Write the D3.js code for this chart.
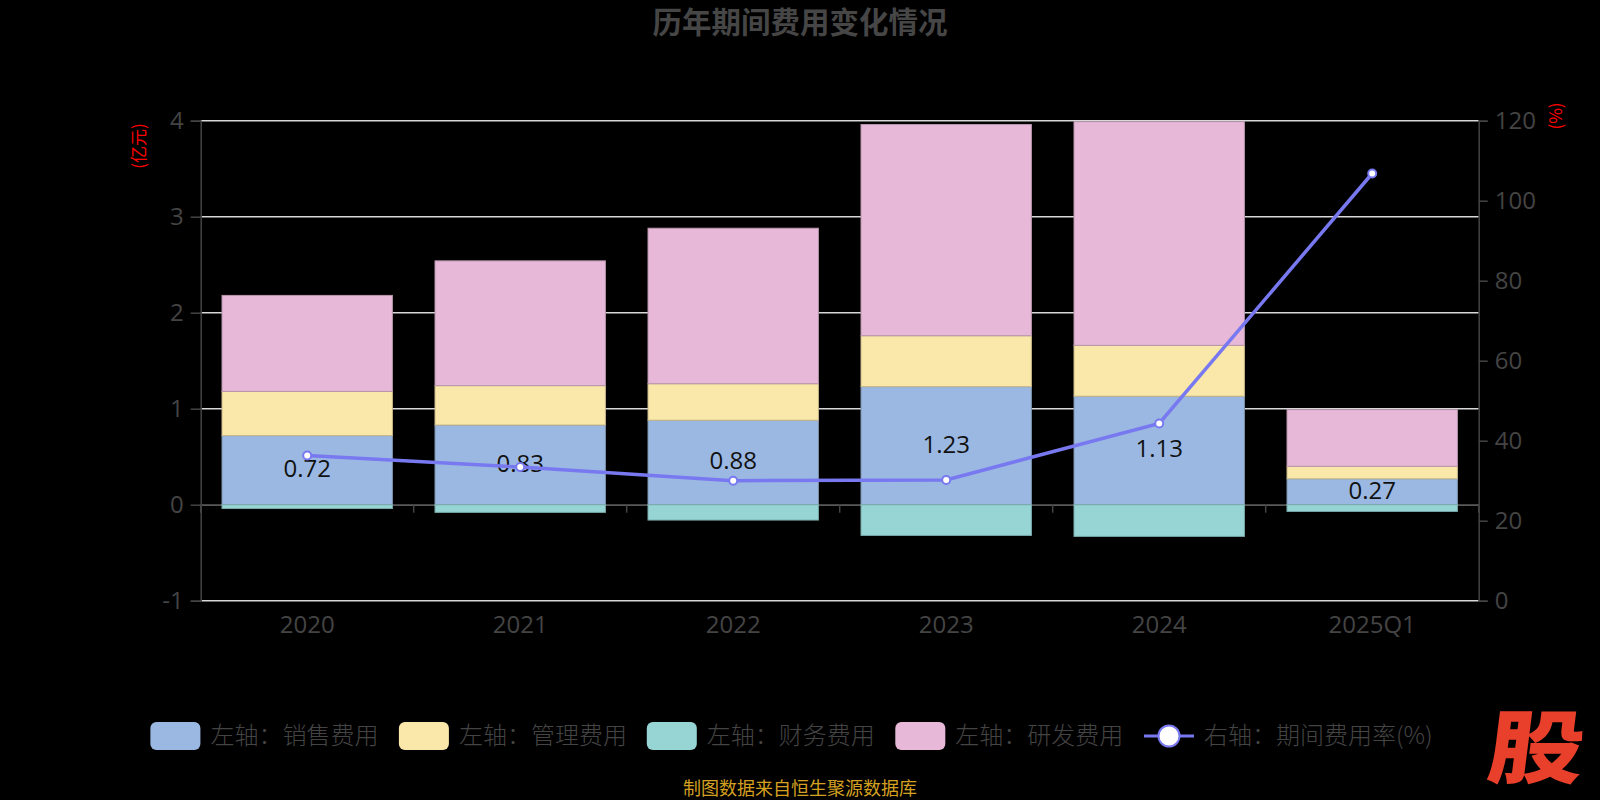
<!DOCTYPE html>
<html><head><meta charset="utf-8">
<script src="https://cdn.jsdelivr.net/npm/d3@7"></script>
<style>html,body{margin:0;padding:0;background:#000;}svg{display:block;}</style>
</head><body>
<svg id="c" width="1600" height="800"></svg>
<script>
const categories = ["2020","2021","2022","2023","2024","2025Q1"];
const salesExp   = [0.72, 0.83, 0.88, 1.23, 1.13, 0.27];
const adminExp   = [0.46, 0.41, 0.38, 0.53, 0.53, 0.13];
const financeExp = [-0.04, -0.08, -0.16, -0.32, -0.33, -0.07];
const rdExp      = [1.00, 1.30, 1.62, 2.20, 2.33, 0.59];
const expenseRate = [36.3, 33.4, 30.0, 30.2, 44.3, 106.8];
const leftTicks = [-1, 0, 1, 2, 3, 4];
const rightTicks = [0, 20, 40, 60, 80, 100, 120];
const seriesNames = ["左轴：销售费用","左轴：管理费用","左轴：财务费用","左轴：研发费用"];
const lineName = "右轴：期间费用率(%)";
const colors = ["#9bb8e2","#f9e8a9","#97d4d4","#e8b8d9"];
const strokes = ["#7f93ad","#c9b98a","#7aabab","#b896ac"];
const lineColor = "#7878f0";

const FONT = "'Open Sans','Noto Sans CJK SC',sans-serif";
const svg = d3.select("#c");
const L = 200.7, R = 1478.7, T = 120.7, B = 600.7;

const x = d3.scaleBand().domain(categories).range([L, R]).padding(0);
const yL = d3.scaleLinear().domain([-1, 4]).range([B, T]);
const yR = d3.scaleLinear().domain([0, 120]).range([B, T]);

// title
svg.append("text").attr("x", 800).attr("y", 33).attr("text-anchor","middle")
  .attr("font-family","'Noto Sans CJK SC',sans-serif").attr("font-weight","bold")
  .attr("font-size", 29.5).attr("fill","#464646").text("历年期间费用变化情况");

// gridlines
svg.append("g").selectAll("line").data(leftTicks).join("line")
  .attr("x1", L).attr("x2", R).attr("y1", d=>yL(d)).attr("y2", d=>yL(d))
  .attr("stroke","#d8d8d8").attr("stroke-width",1.5);

// x axis line at zero + ticks
const xAxisG = svg.append("g").attr("transform",`translate(0,${yL(0)})`);
xAxisG.append("line").attr("x1",L).attr("x2",R).attr("stroke","#444").attr("stroke-width",1.5);
xAxisG.selectAll("line.t").data(d3.range(categories.length+1)).join("line").attr("class","t")
  .attr("x1", i=>L + i*x.step()).attr("x2", i=>L + i*x.step()).attr("y1",0).attr("y2",8)
  .attr("stroke","#444").attr("stroke-width",1.5);

// stacked bars
const rows = categories.map((c,i)=>({cat:c, s0:salesExp[i], s1:adminExp[i], s2:financeExp[i], s3:rdExp[i]}));
const stack = d3.stack().keys(["s0","s1","s2","s3"]).offset(d3.stackOffsetDiverging);
const layers = stack(rows);
const bw = x.bandwidth()*0.8, boff = x.bandwidth()*0.1;
svg.append("g").selectAll("g").data(layers).join("g")
  .attr("fill",(d,i)=>colors[i]).attr("stroke",(d,i)=>strokes[i]).attr("stroke-width",1)
  .selectAll("rect").data(d=>d).join("rect")
  .attr("x", d=>x(d.data.cat)+boff).attr("width", bw)
  .attr("y", d=>yL(Math.max(d[0],d[1]))).attr("height", d=>Math.abs(yL(d[0])-yL(d[1])));

// left axis
const la = svg.append("g").attr("transform",`translate(${L},0)`)
  .call(d3.axisLeft(yL).tickValues(leftTicks).tickSize(10).tickPadding(7).tickFormat(d=>String(d)));
la.select(".domain").attr("stroke","#444").attr("stroke-width",1.5);
la.selectAll(".tick line").attr("stroke","#444").attr("stroke-width",1.5);
la.selectAll("text").attr("font-family",FONT).attr("font-size",24).attr("fill","#444");

// right axis
const ra = svg.append("g").attr("transform",`translate(${R},0)`)
  .call(d3.axisRight(yR).tickValues(rightTicks).tickSize(9).tickPadding(7).tickFormat(d=>String(d)));
ra.select(".domain").attr("stroke","#444").attr("stroke-width",1.5);
ra.selectAll(".tick line").attr("stroke","#444").attr("stroke-width",1.5);
ra.selectAll("text").attr("font-family",FONT).attr("font-size",24).attr("fill","#444");

// category labels
svg.append("g").selectAll("text").data(categories).join("text")
  .attr("x", d=>x(d)+x.bandwidth()/2).attr("y", 633).attr("text-anchor","middle")
  .attr("font-family",FONT).attr("font-size",24).attr("fill","#444").text(d=>d);

// unit labels
svg.append("text").attr("transform","translate(145,146) rotate(-90)").attr("text-anchor","middle")
  .attr("font-family","'Noto Sans CJK SC',sans-serif").attr("font-size",17).attr("fill","#ff0000").text("(亿元)");
svg.append("text").attr("transform","translate(1562,116) rotate(-90)").attr("text-anchor","middle")
  .attr("font-family","'Noto Sans CJK SC',sans-serif").attr("font-size",17).attr("fill","#ff0000").text("(%)");

// sales labels
svg.append("g").selectAll("text").data(layers[0]).join("text")
  .attr("x", d=>x(d.data.cat)+x.bandwidth()/2).attr("y", d=>(yL(d[0])+yL(d[1]))/2 + 7)
  .attr("text-anchor","middle").attr("font-family",FONT).attr("font-size",24).attr("fill","#111")
  .text(d=>d.data.s0.toFixed(2));

// line
const line = d3.line().x((d,i)=>x(categories[i])+x.bandwidth()/2).y(d=>yR(d));
svg.append("path").datum(expenseRate).attr("d",line).attr("fill","none")
  .attr("stroke",lineColor).attr("stroke-width",3.5);
svg.append("g").selectAll("circle").data(expenseRate).join("circle")
  .attr("cx",(d,i)=>x(categories[i])+x.bandwidth()/2).attr("cy",d=>yR(d)).attr("r",4)
  .attr("fill","#fff").attr("stroke",lineColor).attr("stroke-width",2);

// legend
const lg = svg.append("g");
const legendX = [150.4, 398.9, 646.8, 895.3];
seriesNames.forEach((n,i)=>{
  lg.append("rect").attr("x",legendX[i]).attr("y",722).attr("width",50).attr("height",28).attr("rx",6)
    .attr("fill",colors[i]);
  lg.append("text").attr("x",legendX[i]+60).attr("y",744).attr("font-family","'Noto Sans CJK SC',sans-serif")
    .attr("font-weight",300).attr("font-size",24).attr("fill","#444").text(n);
});
lg.append("line").attr("x1",1144).attr("x2",1194).attr("y1",736).attr("y2",736).attr("stroke",lineColor).attr("stroke-width",3);
lg.append("circle").attr("cx",1169).attr("cy",736).attr("r",10.5).attr("fill","#fff").attr("stroke",lineColor).attr("stroke-width",2);
lg.append("text").attr("x",1204).attr("y",744).attr("font-family","'Noto Sans CJK SC',sans-serif")
  .attr("font-weight",300).attr("font-size",24).attr("fill","#444").text(lineName);

// source
svg.append("text").attr("x",800).attr("y",795).attr("text-anchor","middle")
  .attr("font-family","'Noto Sans CJK SC',sans-serif").attr("font-size",18).attr("fill","#d4a020")
  .text("制图数据来自恒生聚源数据库");

// logo
svg.append("text").attr("transform","translate(1533,777) scale(1.2,1) skewX(-6)").attr("text-anchor","middle")
  .attr("font-family","'Noto Sans CJK SC',sans-serif").attr("font-weight",900).attr("font-size",80)
  .attr("fill","#e8402a").text("股");
</script>
</body></html>
